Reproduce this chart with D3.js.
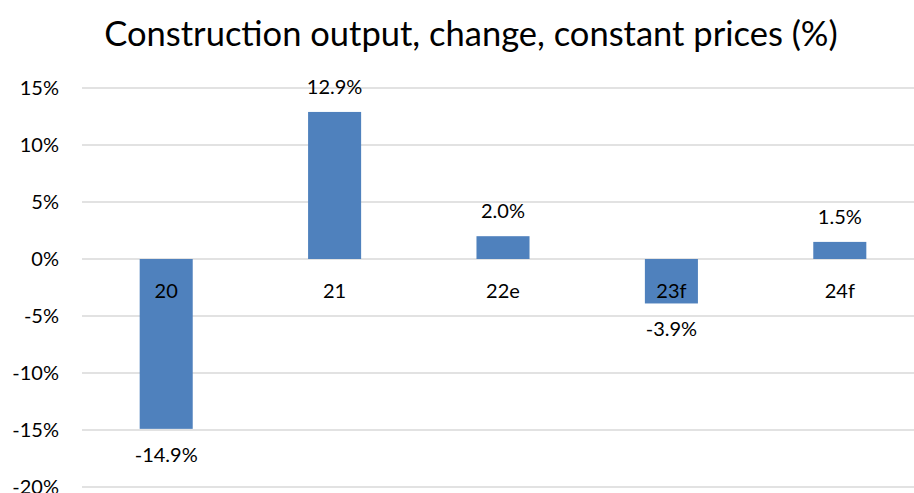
<!DOCTYPE html>
<html>
<head>
<meta charset="utf-8">
<script src="https://cdn.jsdelivr.net/npm/d3@7"></script>
<style>
  html, body { margin: 0; padding: 0; background: #fff; }
  svg { display: block; font-family: Lato, "Open Sans", sans-serif; }
</style>
</head>
<body>
<svg id="chart" width="914" height="493"></svg>
<script>
const title = "Construction output, change, constant prices (%)";
const categories = ["20", "21", "22e", "23f", "24f"];
const values = [-14.9, 12.9, 2.0, -3.9, 1.5];
const yTicks = [15, 10, 5, 0, -5, -10, -15, -20];

const W = 914, H = 493;
const svg = d3.select("#chart");

const x = d3.scaleBand()
  .domain(categories)
  .range([82, 924])
  .paddingInner(0.685)
  .paddingOuter(0.3425);

const y = d3.scaleLinear().domain([-20, 15]).range([487, 88]);

// gridlines
svg.append("g")
  .selectAll("line")
  .data(yTicks)
  .join("line")
  .attr("x1", 82).attr("x2", 924)
  .attr("y1", d => y(d)).attr("y2", d => y(d))
  .attr("stroke", "#d9d9d9")
  .attr("stroke-width", 1.5);

// y tick labels
svg.append("g")
  .selectAll("text")
  .data(yTicks)
  .join("text")
  .attr("x", 59)
  .attr("y", d => y(d))
  .attr("dy", "0.35em")
  .attr("text-anchor", "end")
  .attr("font-size", 20)
  .attr("fill", "#000")
  .text(d => d + "%");

// bars
svg.append("g")
  .selectAll("rect")
  .data(values)
  .join("rect")
  .attr("x", (d, i) => x(categories[i]))
  .attr("width", x.bandwidth())
  .attr("y", d => y(Math.max(0, d)))
  .attr("height", d => Math.abs(y(d) - y(0)))
  .attr("fill", "#4f81bd");

// category labels
svg.append("g")
  .selectAll("text")
  .data(categories)
  .join("text")
  .attr("x", d => x(d) + x.bandwidth() / 2)
  .attr("y", y(0) + 39)
  .attr("text-anchor", "middle")
  .attr("font-size", 20)
  .attr("fill", "#000")
  .text(d => d);

// value labels
svg.append("g")
  .selectAll("text")
  .data(values)
  .join("text")
  .attr("x", (d, i) => x(categories[i]) + x.bandwidth() / 2)
  .attr("y", d => d >= 0 ? y(d) - 25 : y(d) + 26)
  .attr("dy", "0.35em")
  .attr("text-anchor", "middle")
  .attr("font-size", 20)
  .attr("fill", "#000")
  .text(d => d.toFixed(1) + "%");

// title
svg.append("text")
  .attr("x", 471)
  .attr("y", 46)
  .attr("text-anchor", "middle")
  .attr("font-size", 34.5)
  .attr("fill", "#000")
  .text(title);
</script>
</body>
</html>
